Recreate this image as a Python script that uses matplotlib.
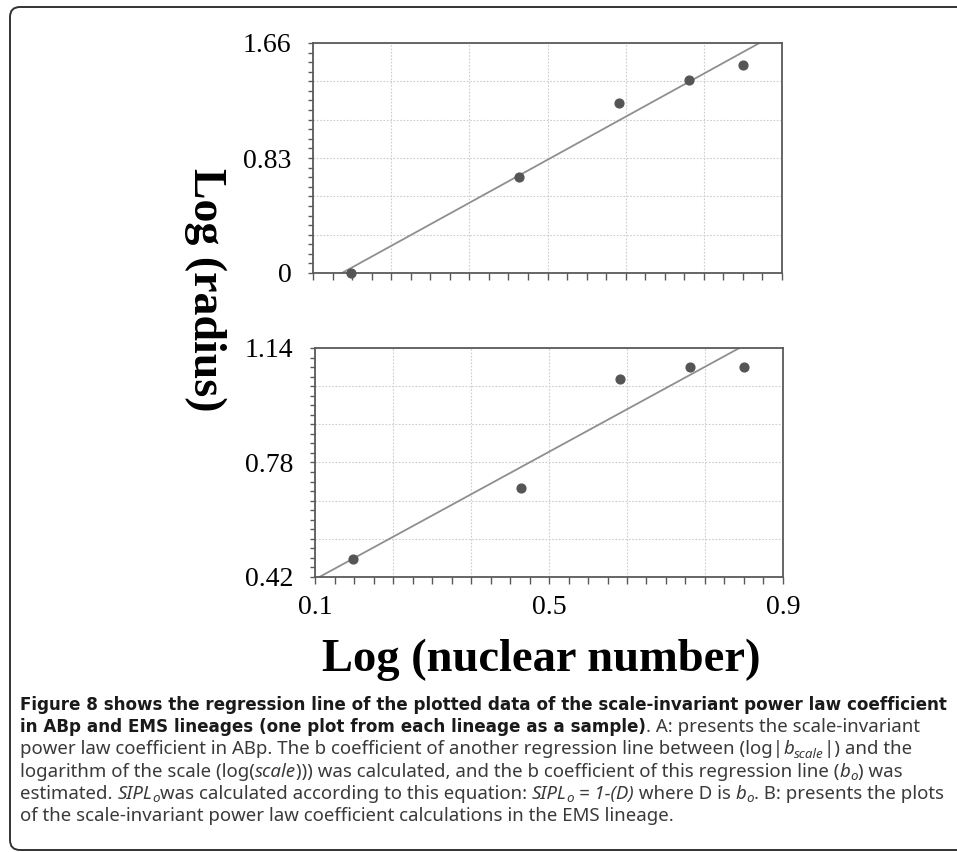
import numpy as np
import matplotlib
matplotlib.use('Agg')
import matplotlib.pyplot as plt
from matplotlib.patches import FancyBboxPatch
from matplotlib.transforms import IdentityTransform

# data
log_nuclear = [0.165, 0.452, 0.622, 0.741, 0.834]
log_radius_abp = [0.0, 0.695, 1.229, 1.393, 1.501]
log_radius_ems = [0.477, 0.701, 1.043, 1.081, 1.081]
x_range = (0.1, 0.9)
x_labels = ['0.1', '0.5', '0.9']
abp_range = (0.0, 1.66)
abp_labels = ['0', '0.83', '1.66']
ems_range = (0.42, 1.14)
ems_labels = ['0.42', '0.78', '1.14']

W, H = 957, 852
fig = plt.figure(figsize=(W / 100, H / 100), dpi=100)
renderer = fig.canvas.get_renderer()

serif = 'Liberation Serif'
spine_c = '#5a5a5a'


def px_axes(left, top, right, bottom):
    return fig.add_axes([left / W, 1 - bottom / H, (right - left) / W, (bottom - top) / H])


def setup(ax, xs, ys, yr, ylabels, show_x):
    ax.set_xlim(*x_range)
    ax.set_ylim(*yr)
    xmaj = np.linspace(x_range[0], x_range[1], 7)
    ymaj = np.linspace(yr[0], yr[1], 7)
    ax.set_xticks(xmaj)
    ax.set_xticks(np.linspace(x_range[0], x_range[1], 25), minor=True)
    ax.set_yticks(ymaj)
    ax.set_yticks(np.linspace(yr[0], yr[1], 25), minor=True)
    ax.set_xticklabels([x_labels[i // 3] if (i % 3 == 0 and show_x) else '' for i in range(7)],
                       fontfamily=serif, fontsize=20)
    ax.set_yticklabels([ylabels[i // 3] if i % 3 == 0 else '' for i in range(7)],
                       fontfamily=serif, fontsize=20)
    ax.grid(True, which='major', color='#cdcdcd', linestyle=(0, (1.5, 1.5)), linewidth=0.8)
    ax.tick_params(axis='x', which='both', direction='out', length=5, width=1,
                   color=spine_c, pad=8)
    ax.tick_params(axis='y', which='both', direction='out', length=3.5, width=1,
                   color=spine_c, pad=12)
    for s in ax.spines.values():
        s.set_color(spine_c)
        s.set_linewidth(1.3)
    # regression line
    k, b = np.polyfit(xs, ys, 1)
    xx = np.array(x_range)
    ax.plot(xx, k * xx + b, color='#8f8f8f', linewidth=1.3, zorder=2)
    ax.scatter(xs, ys, s=40, color='#555555', zorder=3, clip_on=False)


ax1 = px_axes(313, 43, 782, 273)
setup(ax1, log_nuclear, log_radius_abp, abp_range, abp_labels, False)
ax2 = px_axes(315, 348, 783, 577)
setup(ax2, log_nuclear, log_radius_ems, ems_range, ems_labels, True)

fig.text(205 / W, 1 - 290 / H, 'Log (radius)', rotation=-90, ha='center', va='center',
         fontfamily=serif, fontweight='bold', fontsize=33)
fig.text(541 / W, 1 - 671 / H, 'Log (nuclear number)', ha='center', va='baseline',
         fontfamily=serif, fontweight='bold', fontsize=33.5)

# frame
frame = FancyBboxPatch((10, H - 850), 970, 843, boxstyle='round,pad=0,rounding_size=10',
                       transform=IdentityTransform(), fill=False, edgecolor='#333333',
                       linewidth=1.4)
fig.add_artist(frame)


# caption
def styles(bsize, rsize):
    bold = dict(fontfamily='DejaVu Sans', fontweight='bold', fontsize=bsize, color='#1a1a1a')
    reg = dict(fontfamily='Noto Sans', fontsize=rsize, color='#3a3a3a')
    ital = dict(reg, fontstyle='italic')
    sub = dict(ital, fontsize=rsize * 0.72, dy=3.5)
    return bold, reg, ital, sub


def width(s, kw):
    kw = {k: v for k, v in kw.items() if k != 'dy'}
    t = fig.text(0, 0, s + '|', **kw)
    w1 = t.get_window_extent(renderer).width
    t.set_text('|')
    w2 = t.get_window_extent(renderer).width
    t.remove()
    return w1 - w2


def caption_lines(bold, reg, ital, sub):
    return [
        [('Figure 8 shows the regression line of the plotted data of the scale-invariant power law coefficient', bold)],
        [('in ABp and EMS lineages (one plot from each lineage as a sample)', bold),
         ('. A: presents the scale-invariant', reg)],
        [('power law coefficient in ABp. The b coefficient of another regression line between (log|', reg),
         ('b', ital), ('scale', sub), ('|) and the', reg)],
        [('logarithm of the scale (log(', reg), ('scale', ital),
         ('))) was calculated, and the b coefficient of this regression line (', reg),
         ('b', ital), ('o', sub), (') was', reg)],
        [('estimated. ', reg), ('SIPL', ital), ('o', sub),
         ('was calculated according to this equation: ', reg), ('SIPL', ital), ('o', sub),
         (' = 1-(D)', ital), (' where D is ', reg), ('b', ital), ('o', sub),
         ('. B: presents the plots', reg)],
        [('of the scale-invariant power law coefficient calculations in the EMS lineage.', reg)],
    ]


def line_width(parts):
    return sum(width(s, kw) for s, kw in parts)


# size the caption fonts so the lines run as wide as in the picture
lines = caption_lines(*styles(10, 12))
bsize = 10 * 930 / line_width(lines[0])
rsize = 12 * (885 + 873 + 933) / sum(line_width(lines[i]) for i in (2, 3, 4))
lines = caption_lines(*styles(bsize, rsize))


def caption_line(y, parts):
    x = 20
    for s, kw in parts:
        kw = dict(kw)
        dy = kw.pop('dy', 0)
        fig.text(x / W, 1 - (y + dy) / H, s, ha='left', va='baseline', **kw)
        x += width(s, kw)


for i, parts in enumerate(lines):
    caption_line(710 + 22.2 * i, parts)

fig.savefig('out.png', dpi=100)
